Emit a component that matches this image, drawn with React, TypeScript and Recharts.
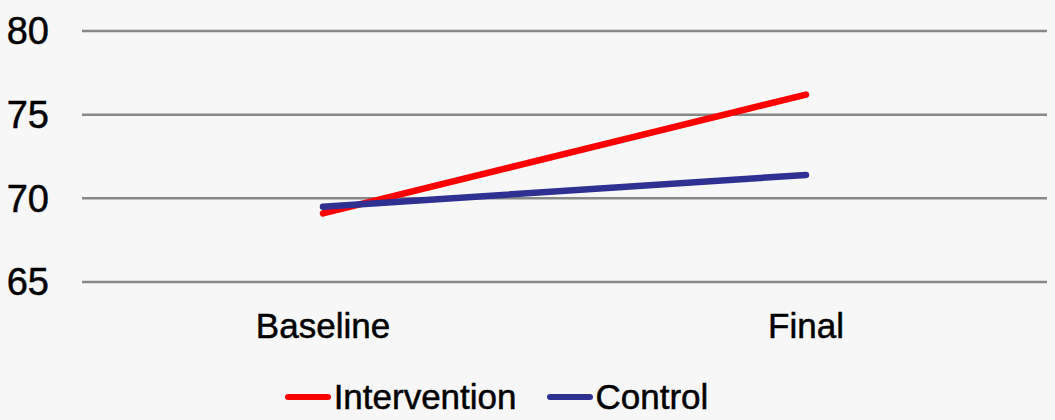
import React from "react";
import {
  LineChart,
  Line,
  XAxis,
  YAxis,
  CartesianGrid,
  Legend,
} from "recharts";

const timepoints = ["Baseline", "Final"];
const seriesNames = ["Intervention", "Control"];
const intervention = [69.1, 76.2];
const control = [69.5, 71.4];
const yTicks = [65, 70, 75, 80];

const data = timepoints.map((t, i) => ({
  name: t,
  Intervention: intervention[i],
  Control: control[i],
}));

const font = "'Liberation Sans', Arial, sans-serif";

function LegendContent(props: any) {
  const items = [...(props.payload || [])].sort(
    (a: any, b: any) => seriesNames.indexOf(a.value) - seriesNames.indexOf(b.value)
  );
  return (
    <div
      style={{
        height: 58,
        display: "flex",
        justifyContent: "center",
        alignItems: "center",
        paddingTop: 12,
        paddingRight: 54,
        boxSizing: "border-box",
        fontFamily: font,
        fontSize: 35,
        color: "#000",
        WebkitTextStroke: "0.5px #000",
      }}
    >
      {items.map((p: any, i: number) => (
        <div
          key={p.value}
          style={{ display: "flex", alignItems: "center", marginLeft: i ? 30 : 0 }}
        >
          <div
            style={{
              width: 46,
              height: 6,
              borderRadius: 3,
              background: p.color,
              marginRight: 3,
            }}
          />
          <span>{p.value}</span>
        </div>
      ))}
    </div>
  );
}

export default function App() {
  return (
    <div
      style={{
        position: "fixed",
        left: 0,
        top: 0,
        width: 1055,
        height: 420,
        background: "#f7f7f7",
      }}
    >
      <LineChart
        width={1055}
        height={420}
        data={data}
        margin={{ top: 31, right: 8, left: 0, bottom: 0 }}
      >
        <CartesianGrid vertical={false} stroke="#888" strokeWidth={2.5} />
        <XAxis
          dataKey="name"
          axisLine={false}
          tickLine={false}
          tickSize={0}
          tickMargin={31}
          height={80}
          padding={{ left: 241, right: 241 }}
          tick={{ fontSize: 35, fill: "#000", fontFamily: font, stroke: "#000", strokeWidth: 0.5 }}
        />
        <YAxis
          domain={[65, 80]}
          ticks={yTicks}
          axisLine={false}
          tickLine={false}
          tickSize={0}
          tickMargin={33}
          width={82}
          tick={{ fontSize: 38, fill: "#000", fontFamily: font, stroke: "#000", strokeWidth: 0.5 }}
        />
        <Legend verticalAlign="bottom" height={58} content={<LegendContent />} />
        <Line
          type="linear"
          dataKey="Intervention"
          stroke="#ff0000"
          strokeWidth={6.5}
          strokeLinecap="round"
          dot={false}
          isAnimationActive={false}
        />
        <Line
          type="linear"
          dataKey="Control"
          stroke="#2e3192"
          strokeWidth={6.5}
          strokeLinecap="round"
          dot={false}
          isAnimationActive={false}
        />
      </LineChart>
    </div>
  );
}
